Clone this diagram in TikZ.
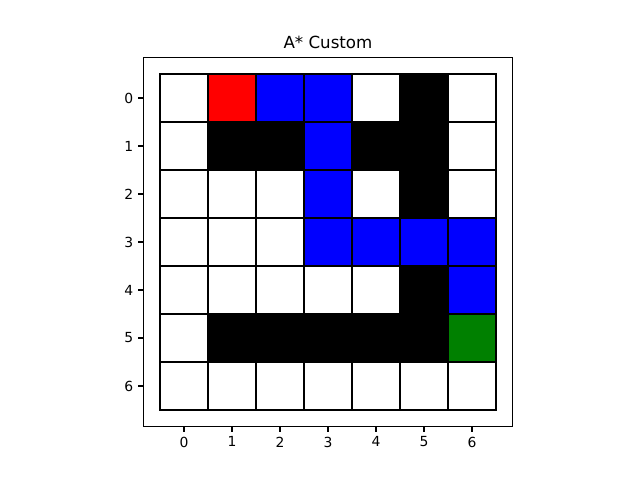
\documentclass[tikz,border=0pt]{standalone}
\usepackage{fontspec}
\setmainfont{DejaVu Sans}
\usetikzlibrary{positioning}
\definecolor{pathblue}{RGB}{0,0,255}
\definecolor{startred}{RGB}{255,0,0}
\definecolor{goalgreen}{RGB}{0,128,0}

\begin{document}
\begin{tikzpicture}[x=34.56pt,y=-34.56pt,
  cell/.style={draw,line width=1pt,minimum size=34.56pt,inner sep=0pt},
  ticklab/.style={font=\fontsize{10}{12}\selectfont,inner sep=0pt}]
\useasboundingbox (-3.8333,-2.0417) rectangle (9.5,7.9583);
% grid cells, row by row
\foreach \row [count=\r from 0] in {
  {white,startred,pathblue,pathblue,white,black,white},
  {white,black,black,pathblue,black,black,white},
  {white,white,white,pathblue,white,black,white},
  {white,white,white,pathblue,pathblue,pathblue,pathblue},
  {white,white,white,white,white,black,pathblue},
  {white,black,black,black,black,black,goalgreen},
  {white,white,white,white,white,white,white}}
  \foreach \col [count=\c from 0] in \row
    \node[cell,fill=\col] (cell-\r-\c) at (\c,\r) {};
% axes frame
\draw[line width=0.8pt] (-0.85,-0.85) rectangle (6.85,6.85);
\node[anchor=base,font=\fontsize{12}{14}\selectfont,yshift=6pt] (title) at (3,-0.85) {A* Custom};
% ticks
\foreach \i in {0,...,6} {
  \draw[line width=0.8pt] (\i,6.85) -- (\i,6.951) coordinate (xt\i);
  \node[ticklab,below=3.5pt of xt\i] (xl\i) {\i};
  \draw[line width=0.8pt] (-0.85,\i) -- (-0.951,\i) coordinate (yt\i);
  \node[ticklab,left=3.5pt of yt\i] (yl\i) {\i};
}
\end{tikzpicture}
\end{document}
